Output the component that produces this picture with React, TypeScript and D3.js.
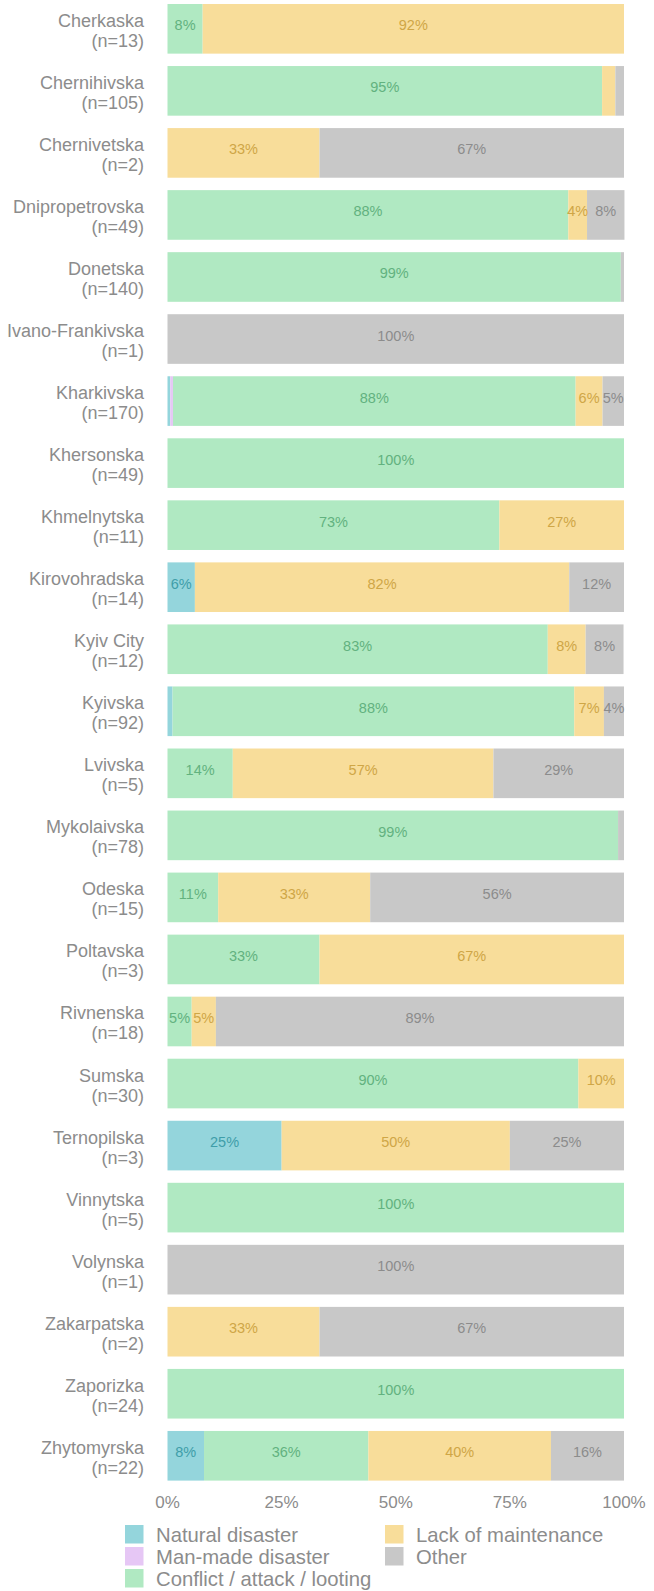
import React from 'react';
import * as d3 from 'd3';

const regions = [
  'Cherkaska', 'Chernihivska', 'Chernivetska', 'Dnipropetrovska', 'Donetska',
  'Ivano-Frankivska', 'Kharkivska', 'Khersonska', 'Khmelnytska', 'Kirovohradska',
  'Kyiv City', 'Kyivska', 'Lvivska', 'Mykolaivska', 'Odeska', 'Poltavska',
  'Rivnenska', 'Sumska', 'Ternopilska', 'Vinnytska', 'Volynska', 'Zakarpatska',
  'Zaporizka', 'Zhytomyrska',
];

const counts = [13, 105, 2, 49, 140, 1, 170, 49, 11, 14, 12, 92, 5, 78, 15, 3, 18, 30, 3, 5, 1, 2, 24, 22];

// shares in percent, one array per cause
const natural = [0, 0, 0, 0, 0, 0, 0.6, 0, 0, 6, 0, 1.1, 0, 0, 0, 0, 0, 0, 25, 0, 0, 0, 0, 8];
const manMade = [0, 0, 0, 0, 0, 0, 0.6, 0, 0, 0, 0, 0, 0, 0, 0, 0, 0, 0, 0, 0, 0, 0, 0, 0];
const conflict = [7.7, 95.2, 0, 87.8, 99.3, 0, 88.2, 100, 72.7, 0, 83.3, 88.0, 14.3, 98.7, 11.1, 33.3, 5.3, 90, 0, 100, 0, 0, 100, 36];
const lack = [92.3, 2.9, 33.3, 4.1, 0, 0, 5.9, 0, 27.3, 82, 8.3, 6.5, 57.1, 0, 33.3, 66.7, 5.3, 10, 50, 0, 0, 33.3, 0, 40];
const other = [0, 1.9, 66.7, 8.2, 0.7, 100, 4.7, 0, 0, 12, 8.3, 4.4, 28.6, 1.3, 55.6, 0, 89.4, 0, 25, 0, 100, 66.7, 0, 16];

const causes = ['Natural disaster', 'Man-made disaster', 'Conflict / attack / looting', 'Lack of maintenance', 'Other'];
const fills = ['#94d5dc', '#e6c7f5', '#b0e9c2', '#f8dd9a', '#c8c8c8'];
const labelColors = ['#3f9ea9', '#a77fc0', '#62b27f', '#cfa646', '#8c8c8c'];
const ticks = [0, 25, 50, 75, 100];

const W = 654;
const H = 1591;
const font = 'Arial, "Liberation Sans", Helvetica, sans-serif';
const textGray = '#8c8c8c';

const App: React.FC = () => {
  const series = [natural, manMade, conflict, lack, other];
  const x = d3.scaleLinear().domain([0, 100]).range([167.5, 624]);
  const y = d3.scaleBand<string>().domain(regions).range([-2.2, 1486.8]).paddingInner(0.2).paddingOuter(0.1);
  const bh = y.bandwidth();

  const rows = regions.map((r, i) => {
    let acc = 0;
    const segs = series.map((s, k) => {
      const v = s[i];
      const seg = { k, x0: acc, x1: acc + v, v };
      acc += v;
      return seg;
    });
    return { r, i, segs };
  });

  // legend layout: two columns
  const legendPos = [
    { x: 125, y: 1525 },
    { x: 125, y: 1547 },
    { x: 125, y: 1569 },
    { x: 385, y: 1525 },
    { x: 385, y: 1547 },
  ];

  return (
    <svg width={W} height={H} style={{ position: 'absolute', left: 0, top: 0 }} fontFamily={font}>
      <rect width={W} height={H} fill="#fff" />
      {rows.map(({ r, i, segs }) => {
        const y0 = y(r)!;
        const cy = y0 + bh / 2;
        return (
          <g key={r}>
            {segs.filter((s) => s.v > 0).map((s) => (
              <rect
                key={s.k}
                x={x(s.x0)}
                y={y0}
                width={x(s.x1) - x(s.x0)}
                height={bh}
                fill={fills[s.k]}
              />
            ))}
            {segs.filter((s) => s.v >= 3.5).map((s) => (
              <text
                key={'t' + s.k}
                x={(x(s.x0) + x(s.x1)) / 2}
                y={cy + 1.5}
                textAnchor="middle"
                fontSize={14.5}
                fill={labelColors[s.k]}
              >
                {Math.round(s.v) + '%'}
              </text>
            ))}
            <text x={144} y={cy - 2} textAnchor="end" fontSize={18} fill={textGray}>{r}</text>
            <text x={144} y={cy + 18} textAnchor="end" fontSize={18} fill={textGray}>{`(n=${counts[i]})`}</text>
          </g>
        );
      })}
      {ticks.map((t) => (
        <text key={t} x={x(t)} y={1508} textAnchor="middle" fontSize={17} fill={textGray}>
          {t + '%'}
        </text>
      ))}
      {causes.map((c, k) => (
        <g key={c}>
          <rect x={legendPos[k].x} y={legendPos[k].y} width={18.5} height={18.5} fill={fills[k]} />
          <text x={legendPos[k].x + 31} y={legendPos[k].y + 16.5} fontSize={20.3} fill={textGray}>{c}</text>
        </g>
      ))}
    </svg>
  );
};

export default App;
